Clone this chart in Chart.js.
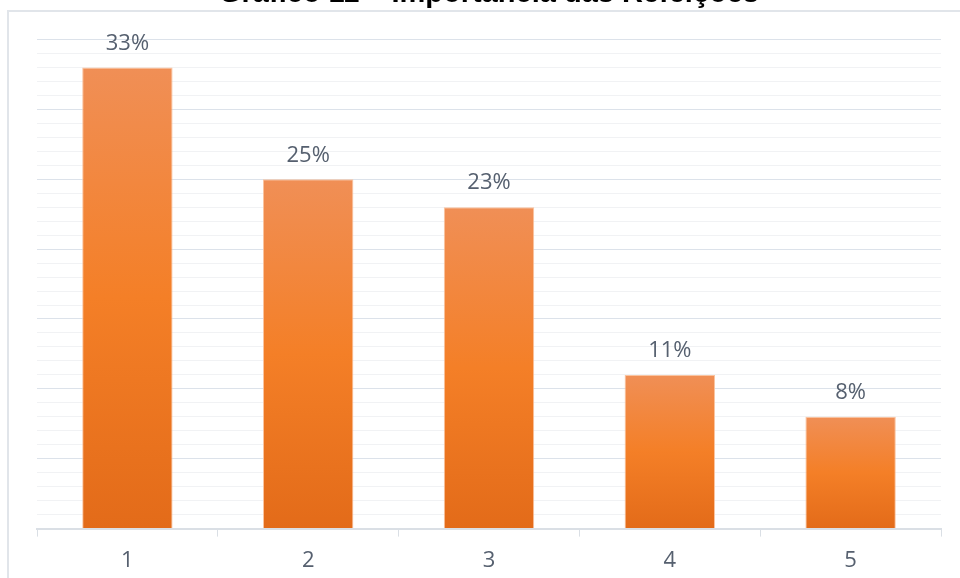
<!DOCTYPE html>
<html lang="pt">
<head>
	<meta charset="utf-8" />
	<title>Gráfico 11 – Importância das Refeições</title>
	<script src="https://cdn.jsdelivr.net/npm/chart.js@4/dist/chart.umd.min.js"></script>
	<style>
		body { margin: 0; background: #fff; overflow: hidden; }
		.frame {
			position: absolute; left: 7px; top: 10px; right: 0; bottom: 0;
			border-top: 2px solid #e1e5ea; border-left: 2px solid #e1e5ea;
		}
		.wrap { position: absolute; left: 0; top: -30px; width: 960px; height: 623px; }
	</style>
</head>
<body>
	<div class="frame"></div>
	<div class="wrap"><canvas id="c1"></canvas></div>
	<script>
		var titleText = 'Gráfico 11 – Importância das Refeições';
		var categories = ['1', '2', '3', '4', '5'];
		var values = [33, 25, 23, 11, 8];
	</script>
	<script>
	function barGradient(context)
	{
		var chart = context.chart;
		if (!chart.chartArea || !chart.scales.y) {
			return '#f47e26';
		}
		var v = context.raw;
		var top = chart.scales.y.getPixelForValue(v);
		var bottom = chart.scales.y.getPixelForValue(0);
		var g = chart.ctx.createLinearGradient(0, top, 0, bottom);
		g.addColorStop(0, '#f08f56');
		g.addColorStop(0.5, '#f47f27');
		g.addColorStop(1, '#e36b19');
		return g;
	}

	// percent labels over each bar
	var valueLabels = {
		id: 'valueLabels',
		afterDatasetsDraw: function(chart) {
			var ctx = chart.ctx;
			var meta = chart.getDatasetMeta(0);
			ctx.save();
			ctx.font = '22px "Open Sans"';
			ctx.fillStyle = '#56606f';
			ctx.textAlign = 'center';
			ctx.textBaseline = 'middle';
			meta.data.forEach(function(bar, i) {
				ctx.fillText(values[i] + '%', bar.x, bar.y - 24);
			});
			ctx.restore();
		}
	};

	var config = {
		type: 'bar',
		plugins: [valueLabels],
		data: {
			labels: categories,
			datasets: [{
				data: values,
				backgroundColor: barGradient,
				borderColor: 'rgba(250,190,150,0.9)',
				borderWidth: 1,
				categoryPercentage: 1,
				barPercentage: 0.5
			}]
		},
		options: {
			animation: false,
			responsive: true,
			maintainAspectRatio: false,
			layout: {
				padding: {left: 37, right: 19, top: 0, bottom: 8}
			},
			plugins: {
				legend: {display: false},
				tooltip: {enabled: false},
				title: {
					display: true,
					text: titleText,
					color: '#000',
					font: {family: '"Liberation Sans", Arial', size: 29, weight: 'bold'},
					padding: {top: 6.6, bottom: 28.1}
				}
			},
			scales: {
				x: {
					grid: {
						offset: true,
						drawOnChartArea: false,
						drawTicks: true,
						tickLength: 8,
						color: '#dadfe5'
					},
					border: {color: '#dadfe5', width: 2},
					ticks: {
						color: '#56606f',
						padding: 11,
						font: {family: '"Open Sans"', size: 22}
					}
				},
				y: {
					min: 0,
					max: 35,
					ticks: {display: false, stepSize: 1},
					border: {display: false},
					grid: {
						drawTicks: false,
						color: function(ctx) {
							return ctx.tick.value % 5 === 0 ? '#dce2ea' : '#f1f2f4';
						}
					}
				}
			}
		}
	};

	var chart = new Chart(document.getElementById('c1'), config);
	</script>
</body>
</html>
